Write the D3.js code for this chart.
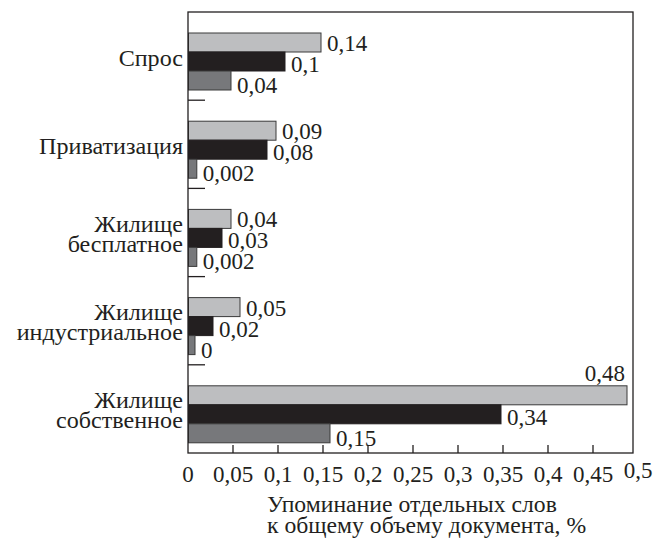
<!DOCTYPE html>
<html>
<head>
<meta charset="utf-8">
<script src="https://cdn.jsdelivr.net/npm/d3@7"></script>
</head>
<body style="margin:0">
<svg id="chart" width="665" height="538"></svg>
<script>
// ---- data ----
const categories = ["Спрос", "Приватизация", "Жилище бесплатное", "Жилище индустриальное", "Жилище собственное"];
const categoryLines = [["Спрос"], ["Приватизация"], ["Жилище", "бесплатное"], ["Жилище", "индустриальное"], ["Жилище", "собственное"]];
const seriesNames = ["s1", "s2", "s3"];
const seriesLight = [0.14, 0.09, 0.04, 0.05, 0.48];
const seriesBlack = [0.1, 0.08, 0.03, 0.02, 0.34];
const seriesGrey  = [0.04, 0.002, 0.002, 0, 0.15];
const tickValues = [0, 0.05, 0.1, 0.15, 0.2, 0.25, 0.3, 0.35, 0.4, 0.45, 0.5];
const tickLabels = ["0", "0,05", "0,1", "0,15", "0,2", "0,25", "0,3", "0,35", "0,4", "0,45", "0,5"];
const axisTitle = ["Упоминание отдельных слов", "к общему объему документа, %"];

// ---- style ----
const FONT = '"Tinos", "Times New Roman", "Liberation Serif", "Noto Serif", serif';
const INK = "#231f20";
const fills = ["#bdbec0", "#231f20", "#77787b"];
const strokes = ["#3a3a3a", "#231f20", "#3a3a3a"];
const pLeft = 188, pTop = 12, pRight = 633, pBottom = 453;
const stub = 7;          // visible stub of the drawn bars at the baseline
const fontNum = 23, fontCat = 23;
const catLabelWidth = 144;   // width of "Приватизация" in the reference
const titleWidth = 290;      // width of first title line in the reference

const svg = d3.select("#chart").style("font-family", FONT);
const x = d3.scaleLinear().domain([0, 0.5]).range([pLeft, 638]);
const y = d3.scaleBand().domain(categories).range([pTop, pBottom]).padding(0);
const ySub = d3.scaleBand().domain(seriesNames).range([21, 78]).padding(0);

const series = [seriesLight, seriesBlack, seriesGrey];
const rows = [];
categories.forEach((c, ci) => {
  series.forEach((s, si) => rows.push({ cat: c, ci, si, name: seriesNames[si], value: s[ci] }));
});

// bars
svg.append("g").selectAll("rect.bar").data(rows).join("rect")
  .attr("class", "bar")
  .attr("x", pLeft + 0.5)
  .attr("y", d => y(d.cat) + ySub(d.name))
  .attr("width", d => x(d.value) - x(0) + stub - 0.5)
  .attr("height", ySub.bandwidth())
  .attr("fill", d => fills[d.si])
  .attr("stroke", d => strokes[d.si])
  .attr("stroke-width", 1);

// frame
svg.append("rect")
  .attr("x", pLeft).attr("y", pTop)
  .attr("width", pRight - pLeft).attr("height", pBottom - pTop)
  .attr("fill", "none").attr("stroke", INK).attr("stroke-width", 1.3);

// category separator ticks
svg.selectAll("line.sep").data(categories.slice(1)).join("line")
  .attr("class", "sep")
  .attr("x1", pLeft).attr("x2", pLeft + 17)
  .attr("y1", d => y(d)).attr("y2", d => y(d))
  .attr("stroke", INK).attr("stroke-width", 1.3);

// x ticks (inward)
svg.selectAll("line.xt").data(tickValues.slice(1, -1)).join("line")
  .attr("class", "xt")
  .attr("x1", d => x(d)).attr("x2", d => x(d))
  .attr("y1", pBottom).attr("y2", pBottom - 8)
  .attr("stroke", INK).attr("stroke-width", 1.3);

// tick labels
svg.selectAll("text.xl").data(tickValues).join("text")
  .attr("class", "xl")
  .style("font-family", FONT)
  .attr("x", d => x(d))
  .attr("y", (d, i) => i === tickValues.length - 1 ? 478 : 482)
  .attr("text-anchor", "middle")
  .attr("font-size", fontNum)
  .attr("fill", INK)
  .text((d, i) => tickLabels[i]);

// value labels (placed above the bar when they would not fit inside the frame)
const fmt = v => String(v).replace(".", ",");
const estW = s => s.length * 0.45 * fontNum;
svg.selectAll("text.vl").data(rows).join("text")
  .attr("class", "vl")
  .style("font-family", FONT)
  .attr("font-size", fontNum)
  .attr("fill", INK)
  .each(function(d) {
    const t = d3.select(this);
    const label = fmt(d.value);
    const end = x(d.value) + stub;
    const by = y(d.cat) + ySub(d.name);
    if (end + 6 + estW(label) > pRight - 2) {
      t.attr("x", end - 2).attr("y", by - 5).attr("text-anchor", "end");
    } else {
      t.attr("x", end + 6).attr("y", by + ySub.bandwidth() - 1 + d.si * 2).attr("text-anchor", "start");
    }
    t.text(label);
  });

// category labels (reference typeface is wider: stretch horizontally to its width)
const lineH = 20;
const catGroups = [];
let refW = 0, maxW = 0;
categories.forEach((c, ci) => {
  const lines = categoryLines[ci];
  const cy = y(c) + y.bandwidth() / 2 + 2;
  const capH = 15;
  const firstBase = cy + capH / 2 - (lines.length - 1) * lineH / 2;
  const gl = svg.append("g").attr("transform", "translate(183,0)");
  const t = gl.append("text")
    .style("font-family", FONT)
    .attr("text-anchor", "end")
    .attr("font-size", fontCat)
    .attr("fill", INK);
  lines.forEach((ln, li) => {
    const ts = t.append("tspan").attr("x", 0).attr("y", firstBase + li * lineH).text(ln);
    const w = ts.node().getComputedTextLength();
    if (ln === "Приватизация") refW = w;
    maxW = Math.max(maxW, w);
  });
  catGroups.push(gl);
});
let sx = refW > 0 ? catLabelWidth / refW : 1;
sx = Math.min(sx, 176 / maxW);
catGroups.forEach(gl => gl.attr("transform", `translate(183,0) scale(${sx},1)`));

// axis title
const ga = svg.append("g").attr("transform", "translate(267,0)");
const at = ga.append("text")
  .style("font-family", FONT)
  .attr("font-size", fontNum).attr("text-anchor", "start").attr("fill", INK);
let t1 = 0;
axisTitle.forEach((ln, i) => {
  const ts = at.append("tspan").attr("x", 0).attr("y", 512 + i * 21).text(ln);
  if (i === 0) t1 = ts.node().getComputedTextLength();
});
const sxT = t1 > 0 ? Math.min(titleWidth / t1, 1.25) : 1;
ga.attr("transform", `translate(267,0) scale(${sxT},1)`);
</script>
</body>
</html>
